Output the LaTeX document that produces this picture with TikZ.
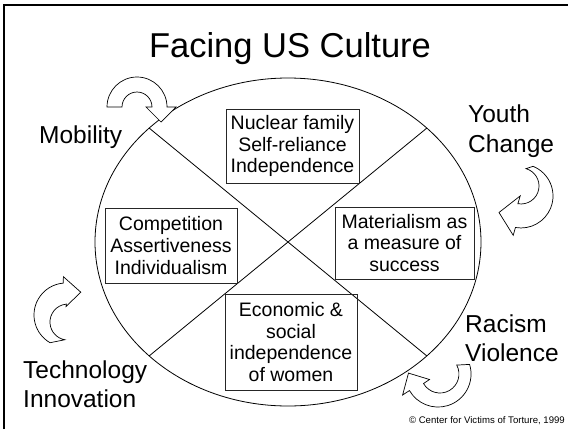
\documentclass[tikz,border=0pt]{standalone}
\usepackage{fontspec}
\setmainfont{Liberation Sans}
\begin{document}
\begin{tikzpicture}[x=1pt,y=-1pt,
  box/.style={draw=black!85,line width=0.8pt,align=center,inner sep=0pt,
    font=\fontsize{19.5}{21.8}\selectfont},
  lbl/.style={inner sep=0pt,anchor=base west,font=\fontsize{24.5}{29}\selectfont},
  turn/.style={draw=black,line width=0.7pt,fill=white,line join=miter}]
\useasboundingbox (0,0) rectangle (568,429);
% frame
\draw[line width=2.5pt] (4,429) -- (4,5) -- (568,5);
% title
\node[inner sep=0pt,anchor=base,font=\fontsize{34.5}{40}\selectfont] (title) at (290,57) {Facing US Culture};
% the circle of values and its four sectors
\draw[line width=0.8pt] (288,242) ellipse[x radius=193,y radius=164];
\coordinate (ul) at (149.2,128.1);
\coordinate (ur) at (426.8,128.1);
\coordinate (ll) at (149.2,355.9);
\coordinate (lr) at (426.8,355.9);
\draw[line width=0.8pt] (ul) -- (lr);
\draw[line width=0.8pt] (ll) -- (ur);
% value boxes
\node[box,minimum width=133,minimum height=74] (nuc) at (292.5,146) {Nuclear family\\Self-reliance\\Independence};
\node[box,minimum width=132,minimum height=75] (comp) at (171,245.5) {Competition\\Assertiveness\\Individualism};
\node[box,minimum width=139,minimum height=72] (mat) at (404.5,243) {Materialism as\\a measure of\\success};
\node[box,minimum width=132,minimum height=96] (econ) at (291,342) {Economic \&\\social\\independence\\of women};
% forces of change
\node[lbl] (mob) at (39,143) {Mobility};
\node[lbl] (youth) at (468,122) {Youth};
\node[lbl] (chg) at (468,152) {Change};
\node[lbl] (rac) at (465,332) {Racism};
\node[lbl] (vio) at (465,361) {Violence};
\node[lbl] (tech) at (23,378) {Technology};
\node[lbl] (inno) at (23,407) {Innovation};
% turning arrows
\draw[turn] (107,107) arc[start angle=180,end angle=360,radius=30] -- (176,107) -- (161,122)
  -- (146,107) -- (152,107) arc[start angle=360,end angle=180,radius=15] -- cycle;
\draw[turn] (533.0,166.3) arc[start angle=-68,end angle=100,radius=32]
  -- (513.2,235.3) -- (499.0,212.5) -- (520.2,195.9) -- (517.9,203.7)
  arc[start angle=100,end angle=-74,radius=18] -- cycle;
\draw[turn] (469.6,364.4) arc[start angle=-17,end angle=150,radius=33]
  -- (402.6,395) -- (408.5,373.1) -- (429.5,379.5) -- (423.5,383.5)
  arc[start angle=150,end angle=-28,radius=19] -- cycle;
\draw[turn] (50,342.7) arc[start angle=120,end angle=265,radius=32]
  -- (63.4,276.7) -- (80.8,292.2) -- (66,306.5) -- (66.4,304.1)
  arc[start angle=265,end angle=100,radius=18] -- cycle;
% credit line
\node[inner sep=0pt,anchor=base east,font=\fontsize{9.6}{11}\selectfont] (credit) at (565,423) {\textcopyright{} Center for Victims of Torture, 1999};
\end{tikzpicture}
\end{document}
